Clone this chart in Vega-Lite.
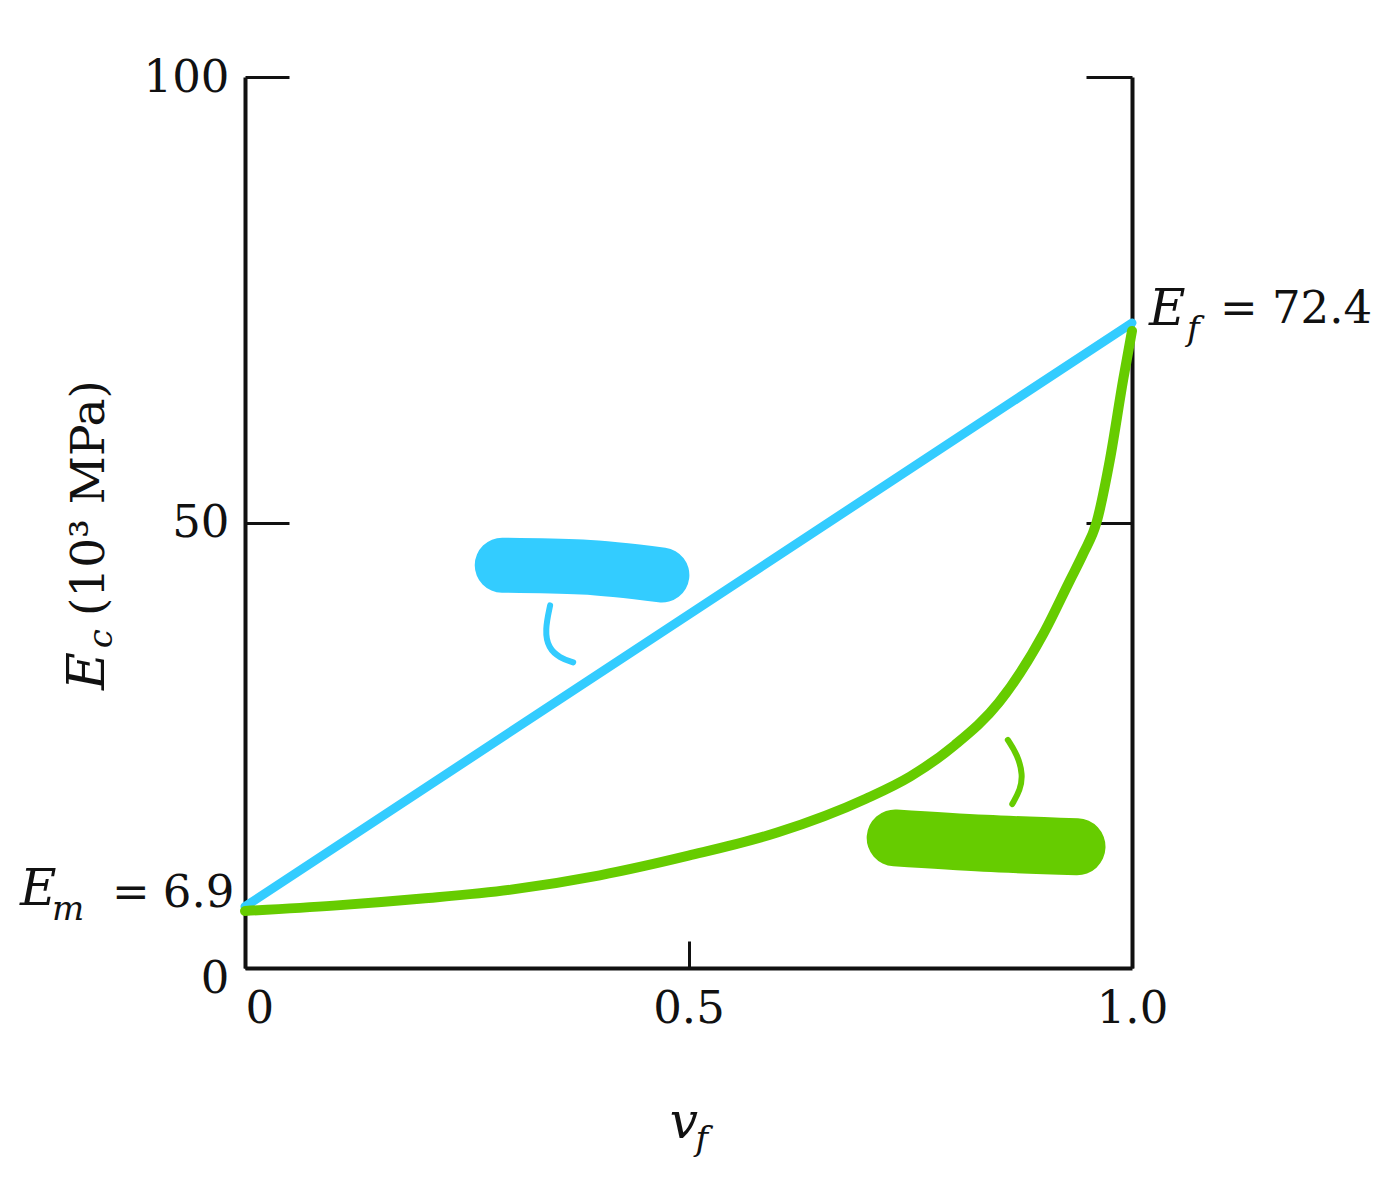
{
  "$schema": "https://vega.github.io/schema/vega-lite/v6.json",
  "width": 887,
  "height": 891,
  "autosize": "none",
  "padding": {"left": 245, "top": 77, "right": 256, "bottom": 232},
  "background": "white",
  "config": {
    "view": {"stroke": null},
    "font": "DejaVu Serif",
    "text": {"font": "DejaVu Serif", "color": "#111"}
  },
  "resolve": {"axis": {"x": "independent", "y": "independent"}},
  "datasets": {
    "rule": [
      {"vf": 0, "Ec": 6.9},
      {"vf": 1, "Ec": 72.4}
    ],
    "inverse": [
      {"vf": 0, "Ec": 6.4},
      {"vf": 0.1, "Ec": 7.0},
      {"vf": 0.2, "Ec": 7.8},
      {"vf": 0.3, "Ec": 8.8},
      {"vf": 0.4, "Ec": 10.4},
      {"vf": 0.5, "Ec": 12.6},
      {"vf": 0.6, "Ec": 15.2},
      {"vf": 0.7, "Ec": 19.0},
      {"vf": 0.75, "Ec": 21.5},
      {"vf": 0.8, "Ec": 25.0},
      {"vf": 0.85, "Ec": 29.8},
      {"vf": 0.9, "Ec": 37.5},
      {"vf": 0.93, "Ec": 43.5},
      {"vf": 0.945, "Ec": 46.5},
      {"vf": 0.96, "Ec": 50.0},
      {"vf": 0.975, "Ec": 57.0},
      {"vf": 0.99, "Ec": 66.0},
      {"vf": 1.0, "Ec": 71.5}
    ],
    "blueBlob": [
      {"vf": 0.29, "Ec": 45.2, "o": 1},
      {"vf": 0.38, "Ec": 45.0, "o": 2},
      {"vf": 0.47, "Ec": 44.1, "o": 3}
    ],
    "blueHook": [
      {"vf": 0.344, "Ec": 40.7, "o": 1},
      {"vf": 0.338, "Ec": 37.9, "o": 2},
      {"vf": 0.342, "Ec": 35.9, "o": 3},
      {"vf": 0.355, "Ec": 34.8, "o": 4},
      {"vf": 0.37, "Ec": 34.3, "o": 5}
    ],
    "greenBlob": [
      {"vf": 0.733, "Ec": 14.6, "o": 1},
      {"vf": 0.834, "Ec": 14.0, "o": 2},
      {"vf": 0.938, "Ec": 13.6, "o": 3}
    ],
    "greenHook": [
      {"vf": 0.86, "Ec": 25.6, "o": 1},
      {"vf": 0.871, "Ec": 23.9, "o": 2},
      {"vf": 0.877, "Ec": 21.7, "o": 3},
      {"vf": 0.874, "Ec": 20.0, "o": 4},
      {"vf": 0.865, "Ec": 18.4, "o": 5}
    ],
    "one": [{}]
  },
  "layer": [
    {
      "data": {"name": "rule"},
      "mark": {"type": "line", "color": "#33CCFF", "strokeWidth": 9, "strokeCap": "round"},
      "encoding": {
        "x": {
          "field": "vf", "type": "quantitative",
          "scale": {"domain": [0, 1], "nice": false, "zero": false},
          "axis": {
            "orient": "bottom", "values": [0, 0.5, 1], "tickSize": -27, "tickWidth": 3, "tickColor": "#111",
            "domainWidth": 4, "domainColor": "#111", "grid": false,
            "labelFont": "DejaVu Serif", "labelFontSize": 45, "labelColor": "#111", "labelPadding": 45,
            "labelFlush": false,
            "labelAlign": {"condition": {"test": "datum.value == 0", "value": "left"}, "value": "center"},
            "labelExpr": "datum.value == 0 ? '0' : format(datum.value, '.1f')",
            "title": null
          }
        },
        "y": {
          "field": "Ec", "type": "quantitative",
          "scale": {"domain": [0, 100], "nice": false, "zero": false},
          "axis": {
            "orient": "left", "values": [0, 50, 100], "tickSize": -44, "tickWidth": 3, "tickColor": "#111",
            "domainWidth": 4, "domainColor": "#111", "grid": false,
            "labelFont": "DejaVu Serif", "labelFontSize": 45, "labelColor": "#111", "labelPadding": 60,
            "labelOffset": {"condition": {"test": "datum.value == 0", "value": 10}, "value": 0},
            "title": null
          }
        }
      }
    },
    {
      "data": {"name": "rule"},
      "mark": {"type": "line", "opacity": 0},
      "encoding": {
        "x": {"field": "vf", "type": "quantitative", "axis": null},
        "y": {
          "field": "Ec", "type": "quantitative",
          "axis": {
            "orient": "right", "values": [50, 100], "tickSize": -46, "tickWidth": 3, "tickColor": "#111",
            "domainWidth": 4, "domainColor": "#111", "grid": false, "labels": false, "title": null
          }
        }
      }
    },
    {
      "data": {"name": "inverse"},
      "mark": {"type": "line", "color": "#66CC00", "strokeWidth": 10, "strokeCap": "round", "interpolate": "monotone"},
      "encoding": {
        "x": {"field": "vf", "type": "quantitative", "axis": null},
        "y": {"field": "Ec", "type": "quantitative", "axis": null}
      }
    },
    {
      "data": {"name": "blueBlob"},
      "mark": {"type": "line", "color": "#33CCFF", "strokeWidth": 55, "strokeCap": "round", "interpolate": "monotone"},
      "encoding": {
        "x": {"field": "vf", "type": "quantitative", "axis": null},
        "y": {"field": "Ec", "type": "quantitative", "axis": null},
        "order": {"field": "o"}
      }
    },
    {
      "data": {"name": "blueHook"},
      "mark": {"type": "line", "color": "#33CCFF", "strokeWidth": 6, "strokeCap": "round", "interpolate": "basis"},
      "encoding": {
        "x": {"field": "vf", "type": "quantitative", "axis": null},
        "y": {"field": "Ec", "type": "quantitative", "axis": null},
        "order": {"field": "o"}
      }
    },
    {
      "data": {"name": "greenBlob"},
      "mark": {"type": "line", "color": "#66CC00", "strokeWidth": 57, "strokeCap": "round", "interpolate": "monotone"},
      "encoding": {
        "x": {"field": "vf", "type": "quantitative", "axis": null},
        "y": {"field": "Ec", "type": "quantitative", "axis": null},
        "order": {"field": "o"}
      }
    },
    {
      "data": {"name": "greenHook"},
      "mark": {"type": "line", "color": "#66CC00", "strokeWidth": 6, "strokeCap": "round", "interpolate": "basis"},
      "encoding": {
        "x": {"field": "vf", "type": "quantitative", "axis": null},
        "y": {"field": "Ec", "type": "quantitative", "axis": null},
        "order": {"field": "o"}
      }
    },
    {
      "data": {"name": "one"},
      "mark": {"type": "text", "text": "E", "fontSize": 50, "fontStyle": "italic", "align": "left", "baseline": "alphabetic"},
      "encoding": {"x": {"datum": -0.2537, "type": "quantitative", "axis": null}, "y": {"datum": 7.1, "type": "quantitative", "axis": null}}
    },
    {
      "data": {"name": "one"},
      "mark": {"type": "text", "text": "m", "fontSize": 34, "fontStyle": "italic", "align": "left", "baseline": "alphabetic"},
      "encoding": {"x": {"datum": -0.2175, "type": "quantitative", "axis": null}, "y": {"datum": 5.4, "type": "quantitative", "axis": null}}
    },
    {
      "data": {"name": "one"},
      "mark": {"type": "text", "text": "=", "fontSize": 45, "align": "left", "baseline": "alphabetic"},
      "encoding": {"x": {"datum": -0.1500, "type": "quantitative", "axis": null}, "y": {"datum": 6.85, "type": "quantitative", "axis": null}}
    },
    {
      "data": {"name": "one"},
      "mark": {"type": "text", "text": "6.9", "fontSize": 45, "align": "right", "baseline": "alphabetic"},
      "encoding": {"x": {"datum": -0.012, "type": "quantitative", "axis": null}, "y": {"datum": 6.85, "type": "quantitative", "axis": null}}
    },
    {
      "data": {"name": "one"},
      "mark": {"type": "text", "text": "E", "fontSize": 50, "fontStyle": "italic", "align": "left", "baseline": "alphabetic"},
      "encoding": {"x": {"datum": 1.0192, "type": "quantitative", "axis": null}, "y": {"datum": 72.2, "type": "quantitative", "axis": null}}
    },
    {
      "data": {"name": "one"},
      "mark": {"type": "text", "text": "f", "fontSize": 34, "fontStyle": "italic", "align": "left", "baseline": "alphabetic"},
      "encoding": {"x": {"datum": 1.062, "type": "quantitative", "axis": null}, "y": {"datum": 70.5, "type": "quantitative", "axis": null}}
    },
    {
      "data": {"name": "one"},
      "mark": {"type": "text", "text": "=", "fontSize": 45, "align": "left", "baseline": "alphabetic"},
      "encoding": {"x": {"datum": 1.0992, "type": "quantitative", "axis": null}, "y": {"datum": 72.4, "type": "quantitative", "axis": null}}
    },
    {
      "data": {"name": "one"},
      "mark": {"type": "text", "text": "72.4", "fontSize": 45, "align": "left", "baseline": "alphabetic"},
      "encoding": {"x": {"datum": 1.1578, "type": "quantitative", "axis": null}, "y": {"datum": 72.4, "type": "quantitative", "axis": null}}
    },
    {
      "data": {"name": "one"},
      "mark": {"type": "text", "text": "v", "fontSize": 50, "fontStyle": "italic", "align": "left", "baseline": "alphabetic"},
      "encoding": {"x": {"datum": 0.479, "type": "quantitative", "axis": null}, "y": {"datum": -19.1, "type": "quantitative", "axis": null}}
    },
    {
      "data": {"name": "one"},
      "mark": {"type": "text", "text": "f", "fontSize": 34, "fontStyle": "italic", "align": "left", "baseline": "alphabetic"},
      "encoding": {"x": {"datum": 0.508, "type": "quantitative", "axis": null}, "y": {"datum": -20.4, "type": "quantitative", "axis": null}}
    },
    {
      "data": {"name": "one"},
      "mark": {"type": "text", "text": "E", "fontSize": 52, "fontStyle": "italic", "align": "left", "baseline": "alphabetic", "angle": 270},
      "encoding": {"x": {"datum": -0.159, "type": "quantitative", "axis": null}, "y": {"datum": 31.2, "type": "quantitative", "axis": null}}
    },
    {
      "data": {"name": "one"},
      "mark": {"type": "text", "text": "c", "fontSize": 34, "fontStyle": "italic", "align": "left", "baseline": "alphabetic", "angle": 270},
      "encoding": {"x": {"datum": -0.150, "type": "quantitative", "axis": null}, "y": {"datum": 35.9, "type": "quantitative", "axis": null}}
    },
    {
      "data": {"name": "one"},
      "mark": {"type": "text", "text": "(10³  MPa)", "fontSize": 47, "align": "left", "baseline": "alphabetic", "angle": 270},
      "encoding": {"x": {"datum": -0.159, "type": "quantitative", "axis": null}, "y": {"datum": 39.5, "type": "quantitative", "axis": null}}
    }
  ]
}
